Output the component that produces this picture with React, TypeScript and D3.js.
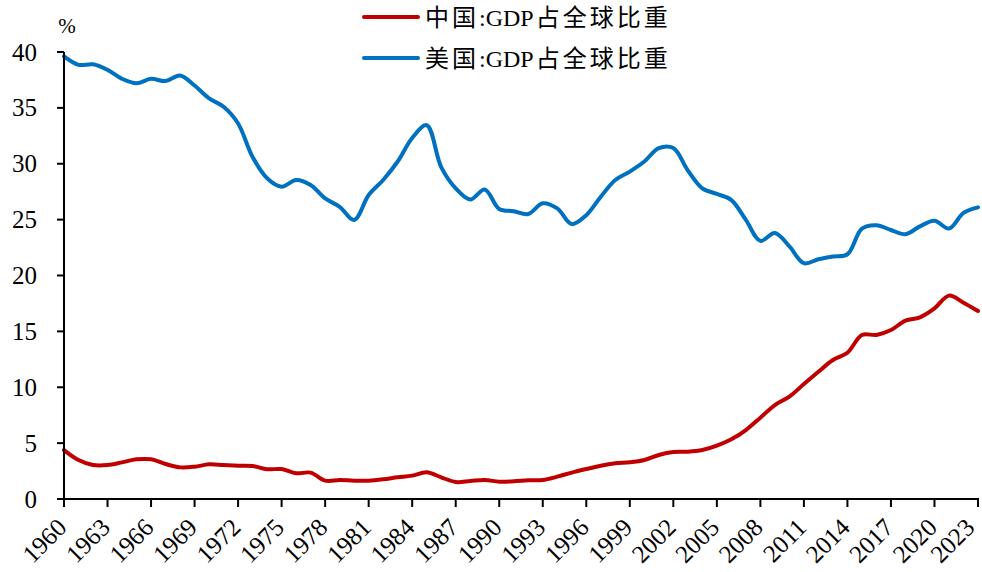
import React from "react";
import * as d3 from "d3";

const years: number[] = d3.range(1960, 2024);

const chinaShare: number[] = [
  4.38, 3.49, 3.04, 3.04, 3.28, 3.55, 3.55, 3.13, 2.83, 2.89,
  3.1, 3.04, 2.98, 2.95, 2.66, 2.68, 2.3, 2.36, 1.64, 1.7,
  1.64, 1.64, 1.76, 1.94, 2.09, 2.39, 1.94, 1.52, 1.61, 1.7,
  1.55, 1.58, 1.67, 1.7, 2.0, 2.36, 2.68, 2.98, 3.19, 3.28,
  3.49, 3.94, 4.2, 4.23, 4.38, 4.77, 5.34, 6.17, 7.28, 8.41,
  9.16, 10.29, 11.39, 12.44, 13.09, 14.68, 14.68, 15.12, 15.96, 16.26,
  17.06, 18.2, 17.57, 16.82,
];

const usShare: number[] = [
  39.6, 38.85, 38.9, 38.4, 37.6, 37.2, 37.6, 37.4, 37.9, 37.0,
  35.85, 35.1, 33.6, 30.6, 28.7, 27.95, 28.55, 28.1, 26.9, 26.15,
  24.97, 27.2, 28.55, 30.2, 32.3, 33.45, 29.7, 27.8, 26.8, 27.7,
  25.95, 25.75, 25.5, 26.46, 26.0, 24.6, 25.4, 27.05, 28.55, 29.3,
  30.2, 31.4, 31.4, 29.4, 27.8, 27.3, 26.75, 24.97, 23.1, 23.8,
  22.6, 21.1, 21.45, 21.7, 21.9, 24.2, 24.5, 24.07, 23.7, 24.4,
  24.9, 24.2, 25.6, 26.1,
];

const yTicks: number[] = [0, 5, 10, 15, 20, 25, 30, 35, 40];
const xTickYears: number[] = d3.range(1960, 2024, 3);

// legend labels split into country, metric code and description
const seriesCountries: string[] = ["中国", "美国"];
const seriesCode = ":GDP";
const seriesDesc = "占全球比重";
const seriesColors: string[] = ["#C00000", "#0070C0"];

const W = 982;
const H = 572;
const left = 64;
const right = 978;
const top = 52;
const bottom = 499;
const serif = "'Liberation Serif', 'Times New Roman', 'Noto Sans CJK SC', serif";

export default function App() {
  const x = d3.scaleLinear().domain([1960, 2023]).range([left, right]);
  const y = d3.scaleLinear().domain([0, 40]).range([bottom, top]);

  const line = d3
    .line<number>()
    .x((_, i) => x(years[i]))
    .y((d) => y(d))
    .curve(d3.curveCatmullRom.alpha(0.5));

  const series = [chinaShare, usShare];

  return (
    <svg
      width={W}
      height={H}
      viewBox={`0 0 ${W} ${H}`}
      style={{ position: "absolute", left: 0, top: 0, background: "#fff" }}
    >
      <rect x={0} y={0} width={W} height={H} fill="#fff" />

      {/* data lines */}
      {series.map((s, i) => (
        <path
          key={i}
          d={line(s) || ""}
          fill="none"
          stroke={seriesColors[i]}
          strokeWidth={4}
          strokeLinejoin="round"
          strokeLinecap="round"
        />
      ))}

      {/* y axis */}
      <line x1={left} x2={left} y1={top} y2={bottom} stroke="#000" strokeWidth={2} />
      {yTicks.map((t) => (
        <g key={t}>
          <line x1={left - 7} x2={left} y1={y(t)} y2={y(t)} stroke="#000" strokeWidth={2} />
          <text
            x={37}
            y={y(t)}
            dy="0.34em"
            textAnchor="end"
            fontFamily={serif}
            fontSize={25}
            fill="#000"
          >
            {t}
          </text>
        </g>
      ))}
      <text x={67} y={33} textAnchor="middle" fontFamily={serif} fontSize={21} fill="#000">
        %
      </text>

      {/* x axis; rotated year labels kept inside the right edge */}
      <line x1={left - 7} x2={right + 1} y1={bottom} y2={bottom} stroke="#000" strokeWidth={2} />
      {xTickYears.map((yr) => (
        <g key={yr}>
          <line x1={x(yr)} x2={x(yr)} y1={bottom} y2={bottom + 8} stroke="#000" strokeWidth={2} />
          <text
            transform={`translate(${Math.min(x(yr) + 4, W - 6)},${bottom + 30}) rotate(-45)`}
            textAnchor="end"
            fontFamily={serif}
            fontSize={25}
            fill="#000"
          >
            {yr}
          </text>
        </g>
      ))}

      {/* legend */}
      {seriesCountries.map((country, i) => {
        const ly = 17 + i * 41;
        return (
          <g key={country}>
            <line
              x1={364}
              x2={418}
              y1={ly}
              y2={ly}
              stroke={seriesColors[i]}
              strokeWidth={4}
              strokeLinecap="round"
            />
            <text x={425} y={ly} dy="0.36em" fontFamily={serif} fontSize={24} fill="#000">
              <tspan letterSpacing={3}>{country}</tspan>
              <tspan>{seriesCode}</tspan>
              <tspan dx={2} letterSpacing={3}>{seriesDesc}</tspan>
            </text>
          </g>
        );
      })}
    </svg>
  );
}
